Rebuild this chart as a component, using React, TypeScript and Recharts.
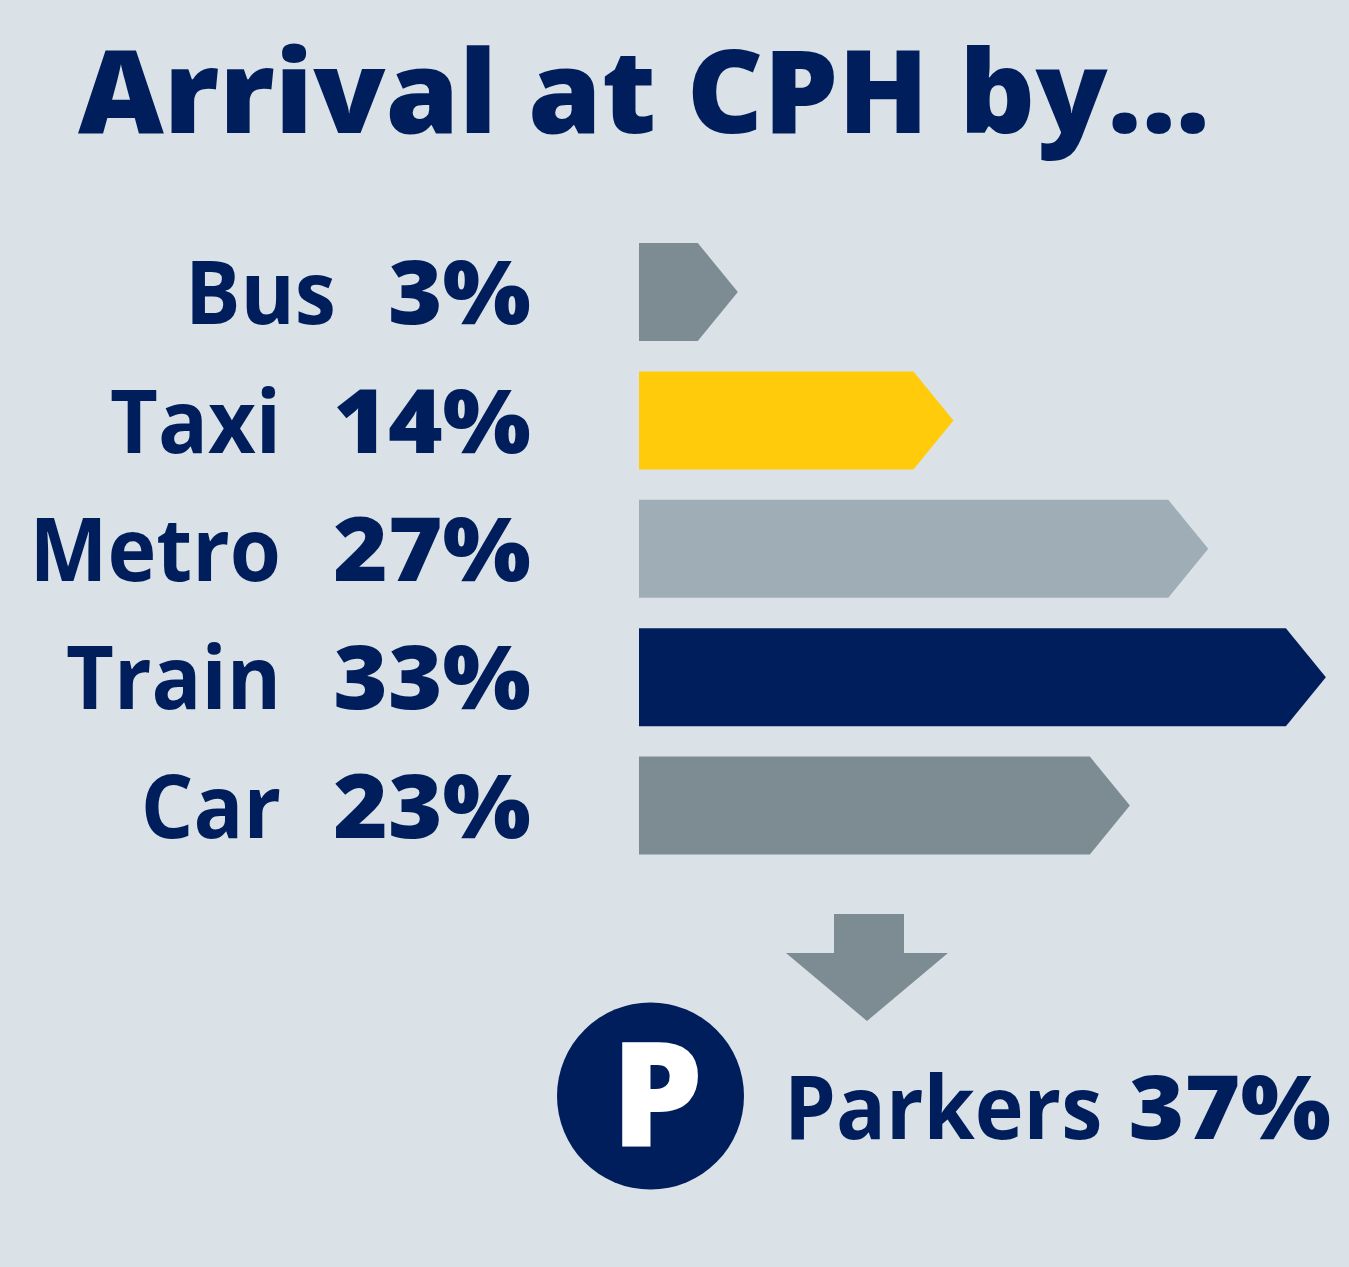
import React from 'react';
import { BarChart, Bar, Cell, XAxis, YAxis } from 'recharts';

const modes = ['Bus', 'Taxi', 'Metro', 'Train', 'Car'];
const shares = [3, 14, 27, 33, 23];
const barColors = ['#7d8c93', '#ffcb0a', '#9fadb7', '#001e5b', '#7d8c93'];
const titleText = 'Arrival at CPH by...';
const parkersName = 'Parkers';
const parkersShare = 37;

const NAVY = '#001e5b';
const FONT = '"Open Sans", "Noto Sans", sans-serif';
const HEAD = 40; // arrow point sticks out past the value

const data = modes.map((mode, i) => ({ mode, share: shares[i] }));

// bar with an arrow head on the end
const ArrowBar = (props: any) => {
  const { x, y, width, height, fill } = props;
  const d = `M${x},${y} H${x + width} L${x + width + HEAD},${y + height / 2} L${x + width},${y + height} H${x} Z`;
  return <path d={d} fill={fill} />;
};

// the original face is narrower in the words and wider in the numbers than Open Sans
const nameStyle = { fontFamily: FONT, fontWeight: 700, fontSize: 88, fill: NAVY };
const pctStyle = { fontFamily: FONT, fontWeight: 800, fontSize: 88, fill: NAVY };

const ModeTick = (props: any) => {
  const { y, payload, index } = props;
  const base = y + 32;
  const nameEnd = index === 0 ? 336 : 281;
  return (
    <g>
      <text transform={`translate(531,${base}) scale(1.06,1)`} textAnchor="end" style={pctStyle}>{shares[index]}%</text>
      <text transform={`translate(${nameEnd},${base}) scale(0.94,1)`} textAnchor="end" style={nameStyle}>{payload.value}</text>
    </g>
  );
};

const App = () => {
  return (
    <div style={{ position: 'absolute', left: 0, top: 0, width: 1349, height: 1267, background: '#dae2e8' }}>
      <BarChart
        width={1349}
        height={1267}
        data={data}
        layout="vertical"
        margin={{ top: 228, right: 0, bottom: 397, left: 0 }}
        barCategoryGap={15}
      >
        <XAxis type="number" hide domain={[0, 36.22]} />
        <YAxis type="category" dataKey="mode" width={639} axisLine={false} tickLine={false} tick={<ModeTick />} interval={0} />
        <Bar dataKey="share" barSize={98} shape={<ArrowBar />} isAnimationActive={false}>
          {data.map((d, i) => (
            <Cell key={d.mode} fill={barColors[i]} />
          ))}
        </Bar>
        <text x={78} y={133} textLength={1132} lengthAdjust="spacingAndGlyphs" style={{ fontFamily: FONT, fontWeight: 800, fontSize: 116, fill: NAVY }}>{titleText}</text>
        <path d="M834,914 H904 V953 H948 L867,1021 L786,953 H834 Z" fill="#7d8c93" />
        <circle cx={650.5} cy={1096} r={93.5} fill={NAVY} />
        <text x={657} y={1146} textAnchor="middle" style={{ fontFamily: FONT, fontWeight: 800, fontSize: 146, fill: '#fff' }}>P</text>
        <text transform="translate(784,1139) scale(0.94,1)" style={nameStyle}>{parkersName}</text>
        <text transform="translate(1331,1139) scale(1.085,1)" textAnchor="end" style={pctStyle}>{parkersShare}%</text>
      </BarChart>
    </div>
  );
};

export default App;
